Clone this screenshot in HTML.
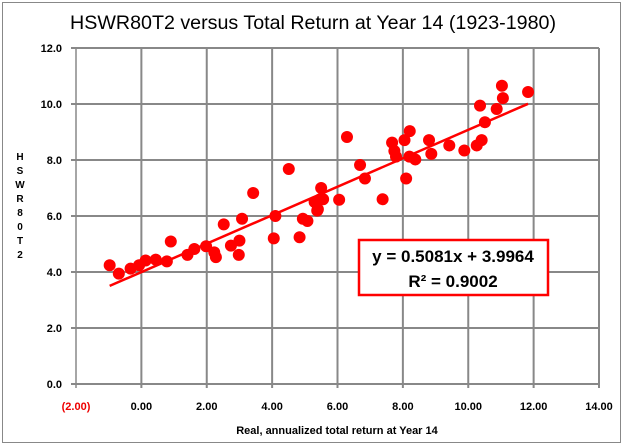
<!DOCTYPE html>
<html><head><meta charset="utf-8"><style>
html,body{margin:0;padding:0;background:#fff;}
svg{display:block;font-family:"Liberation Sans",sans-serif;}
</style></head><body>
<svg id="chart" width="624" height="447" viewBox="0 0 624 447">
<rect x="2.5" y="2.5" width="618" height="440" fill="#fff" stroke="#888"/>
<text x="313" y="29" text-anchor="middle" font-size="19" textLength="486" lengthAdjust="spacingAndGlyphs">HSWR80T2 versus Total Return at Year 14 (1923-1980)</text>
<g id="grid"></g>
<g id="ylabels"></g>
<g id="xlabels"></g>
<g id="ytitle"></g>
<text x="337" y="434" text-anchor="middle" font-size="11" font-weight="bold">Real, annualized total return at Year 14</text>
<g id="trend"></g>
<g id="points"></g>
<rect x="359" y="240" width="189" height="55" fill="#fff" stroke="#f00" stroke-width="2.5"/>
<text x="453" y="262" text-anchor="middle" font-size="17" font-weight="bold">y = 0.5081x + 3.9964</text>
<text x="453" y="287" text-anchor="middle" font-size="17" font-weight="bold">R² = 0.9002</text>
</svg>
<script>
const xTicks=[-2,0,2,4,6,8,10,12,14];
const xTickLabels=["(2.00)","0.00","2.00","4.00","6.00","8.00","10.00","12.00","14.00"];
const yTicks=[0,2,4,6,8,10,12];
const yTickLabels=["0.0","2.0","4.0","6.0","8.0","10.0","12.0"];
const xValues=[-0.97,-0.69,-0.33,-0.07,0.13,0.44,0.78,0.9,1.41,1.62,1.98,2.23,2.28,2.52,2.74,3.0,2.98,3.08,3.42,4.05,4.1,4.51,4.84,4.94,5.08,5.4,5.5,5.56,5.38,5.47,5.3,6.05,6.29,6.69,6.84,7.38,7.67,7.74,7.79,8.05,8.21,8.1,8.2,8.38,8.8,8.87,9.42,9.88,10.26,10.41,10.36,10.51,10.87,11.03,11.06,11.83];
const yValues=[4.24,3.94,4.12,4.24,4.41,4.44,4.38,5.09,4.61,4.82,4.92,4.7,4.53,5.7,4.94,5.12,4.61,5.9,6.82,5.2,6.0,7.68,5.24,5.9,5.82,6.24,7.0,6.6,6.19,6.6,6.5,6.58,8.82,7.82,7.34,6.6,8.62,8.32,8.12,8.71,9.03,7.34,8.12,8.02,8.71,8.22,8.52,8.34,8.52,8.71,9.94,9.35,9.82,10.65,10.21,10.43];
const slope=0.5081, intercept=3.9964;
const NS="http://www.w3.org/2000/svg";
const X0=76,X1=599,Y0=384,Y1=48;
function sx(v){return X0+(v+2)/16*(X1-X0);}
function sy(v){return Y0-v/12*(Y0-Y1);}
function mk(t,a,p){const e=document.createElementNS(NS,t);for(const k in a)e.setAttribute(k,a[k]);document.getElementById(p).appendChild(e);return e;}
xTicks.forEach((v,i)=>{
 const l=mk('line',{x1:sx(v),x2:sx(v),y1:Y1,y2:Y0+4,stroke:'#888','stroke-width':(i==0?1.5:2)},'grid');
 
 
 const t=mk('text',{x:sx(v),y:410,'text-anchor':'middle','font-size':11,'font-weight':'bold',fill:(v<0?'#e00':'#000')},'xlabels');
 t.textContent=xTickLabels[i];
 
 
});
yTicks.forEach((v,i)=>{
 const l=mk('line',{x1:X0-5,x2:X1,y1:sy(v),y2:sy(v),stroke:'#888','stroke-width':2},'grid');
 
 
 const t=mk('text',{x:62,y:sy(v)+4,'text-anchor':'end','font-size':11,'font-weight':'bold'},'ylabels');
 t.textContent=yTickLabels[i];
 
 
});
"HSWR80T2".split('').forEach((c,i)=>{
 const t=mk('text',{x:20,y:160+i*14,'text-anchor':'middle','font-size':10,'font-weight':'bold'},'ytitle');
 t.textContent=c;
 
 
});
const xmin=Math.min(...xValues),xmax=Math.max(...xValues);
const tl=mk('line',{x1:sx(xmin),y1:sy(slope*xmin+intercept),x2:sx(xmax),y2:sy(slope*xmax+intercept),stroke:'#f00','stroke-width':2.5},'trend');


xValues.forEach((v,i)=>{
 const c=mk('circle',{cx:sx(v),cy:sy(yValues[i]),r:6,fill:'#f00'},'points');
 
 
});
</script>
</body></html>
